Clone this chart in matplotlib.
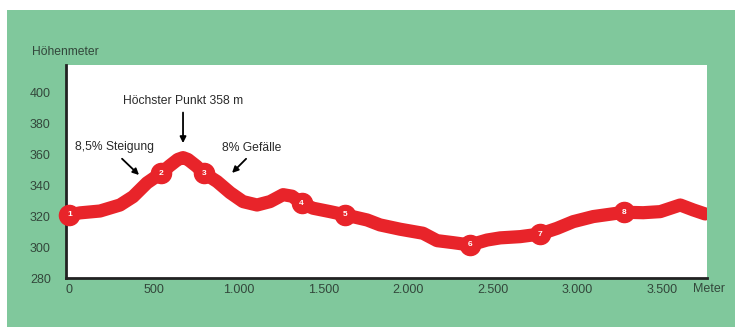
import matplotlib.pyplot as plt
from matplotlib.patches import Rectangle

plt.rcParams['font.family'] = ['Liberation Sans', 'DejaVu Sans']

# Streckenprofil: Distanz (m) und Höhe (m)
dist = [0, 63, 181, 299, 376, 458, 541, 590, 640, 671, 700, 750, 795, 872, 949,
        1025, 1108, 1185, 1262, 1315, 1372, 1439, 1539, 1628, 1758, 1834, 1953,
        2088, 2171, 2266, 2366, 2466, 2544, 2662, 2780, 2880, 2975, 3093, 3276,
        3388, 3489, 3607, 3684, 3754]
hoehe = [320.9, 322.2, 323.4, 327.3, 332.7, 341.6, 347.9, 352.5, 356.8, 358, 356.8,
         352.5, 347.9, 342.5, 335.3, 329.5, 327.3, 329.5, 334, 333, 328.4, 325.2,
         323, 320.9, 317.6, 314.4, 311.6, 309, 304.2, 302.9, 301.4, 304.6, 306,
         306.8, 308.5, 312.2, 316.5, 319.8, 322.6, 322.3, 323, 327.3, 324.1, 321.5]

# nummerierte Punkte
punkt_nr = [1, 2, 3, 4, 5, 6, 7, 8]
punkt_x = [0, 541, 795, 1372, 1628, 2366, 2780, 3276]
punkt_y = [320.9, 347.9, 347.9, 328.4, 320.9, 301.4, 308.5, 322.6]

xticks = [0, 500, 1000, 1500, 2000, 2500, 3000, 3500]
xlabels = ['0', '500', '1.000', '1.500', '2.000', '2.500', '3.000', '3.500']
yticks = [280, 300, 320, 340, 360, 380, 400]

green = '#80c89c'
red = '#e8242a'
txt = '#33473b'

fig = plt.figure(figsize=(7.35, 3.27), dpi=100, facecolor='white')
fig.patches.append(Rectangle((7 / 735, 0), 1, 1 - 10 / 327, transform=fig.transFigure,
                             facecolor=green, edgecolor='none', zorder=-1))

ax = fig.add_axes([66 / 735, 1 - 278 / 327, (707 - 66) / 735, (278 - 65) / 327])
ax.set_facecolor('white')
ax.set_xlim(-20, 3765)
ax.set_ylim(280, 418)

ax.plot(dist, hoehe, color=red, lw=9.5, solid_capstyle='round',
        solid_joinstyle='round', zorder=3)
ax.plot(punkt_x, punkt_y, 'o', color=red, ms=14.5, zorder=4, clip_on=False)
for n, px, py in zip(punkt_nr, punkt_x, punkt_y):
    ax.text(px, py, str(n), color='white', fontsize=6, fontweight='bold',
            ha='center', va='center', zorder=5)

for s in ['top', 'right']:
    ax.spines[s].set_visible(False)
for s in ['left', 'bottom']:
    ax.spines[s].set_linewidth(2)
    ax.spines[s].set_color('#222222')

ax.set_xticks(xticks)
ax.set_xticklabels(xlabels)
ax.set_yticks(yticks)
ax.tick_params(length=0, labelsize=9, labelcolor=txt)
ax.tick_params(axis='y', pad=11)
ax.tick_params(axis='x', pad=4)

# Beschriftungen mit Pfeilen
arrow = dict(arrowstyle='-|>', color='black', lw=1.3, mutation_scale=9)
ax.text(671, 394.8, 'Höchster Punkt 358 m', ha='center', va='center',
        fontsize=8.7, color='#2a2a2a')
ax.annotate('', xy=(671, 365.6), xytext=(671, 389), arrowprops=arrow)
ax.text(269, 365, '8,5% Steigung', ha='center', va='center',
        fontsize=8.7, color='#2a2a2a')
ax.annotate('', xy=(423, 345.5), xytext=(299, 358.5), arrowprops=arrow)
ax.text(1079, 364.3, '8% Gefälle', ha='center', va='center',
        fontsize=8.7, color='#2a2a2a')
ax.annotate('', xy=(949, 346.8), xytext=(1055, 358.5), arrowprops=arrow)

fig.text(32 / 735, 1 - 52 / 327, 'Höhenmeter', fontsize=8.7, color=txt,
         ha='left', va='center')
fig.text(693 / 735, 1 - 289 / 327, 'Meter', fontsize=9, color=txt,
         ha='left', va='center')

fig.savefig('out.png', dpi=100, facecolor=fig.get_facecolor())
